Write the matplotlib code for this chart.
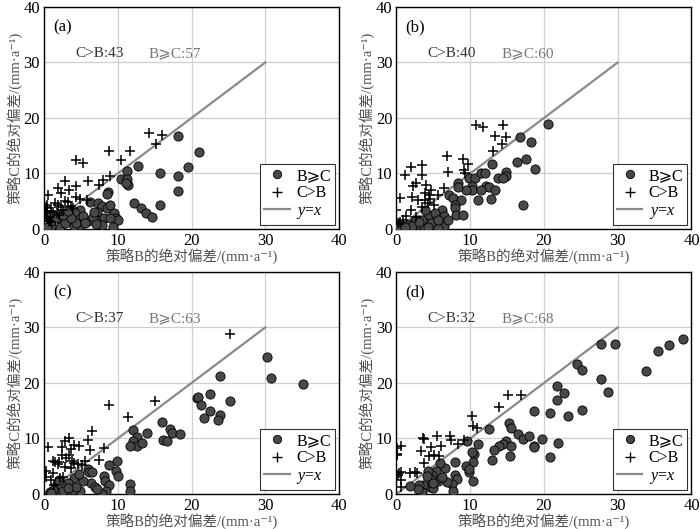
import numpy as np
import matplotlib
matplotlib.use("Agg")
from matplotlib import pyplot as plt
from matplotlib.lines import Line2D

plt.rcParams['font.family'] = ['Liberation Serif', 'Noto Sans CJK SC', 'DejaVu Sans']
plt.rcParams['mathtext.fontset'] = 'custom'
plt.rcParams['mathtext.rm'] = 'Liberation Serif'
plt.rcParams['mathtext.it'] = 'Liberation Serif:italic'

# panel (a)
a_bc_x = [18.1, 21.0, 19.5, 12.7, 11.2, 15.7, 18.2, 10.5, 11.2, 11.4, 11.1, 18.1, 8.7, 12.2, 15.7,
          13.2, 13.8, 14.7, 6.2, 7.3, 7.8, 8.6, 4.9, 4.2, 7.2, 9.5, 9.8, 10.0, 3.1, 2.3, 3.5, 4.9,
          6.0, 7.5, 8.1, 9.0, 7.8, 9.4, 4.0, 2.2, 0.9, 4.9, 4.3, 2.9, 1.0, 5.3, 6.6, 8.5, 3.7,
          1.6, 2.6, 5.6, 7.0, 0.4, 3.3, 6.8, 8.9]
a_bc_y = [16.7, 13.8, 11.2, 11.4, 10.5, 10.0, 9.5, 9.0, 9.0, 8.0, 8.3, 6.8, 6.6, 4.6, 4.4,
          3.7, 2.9, 2.2, 4.8, 4.6, 4.2, 3.8, 3.4, 2.8, 3.0, 2.8, 2.0, 1.6, 2.2, 1.7, 1.6, 1.8,
          1.4, 1.4, 1.9, 1.9, 0.8, 0.4, 0.5, 0.4, 0.5, 0.8, 1.1, 1.1, 1.4, 2.4, 2.1, 6.3, 2.0,
          1.9, 2.5, 1.0, 0.9, 0.3, 3.3, 3.1, 4.4]
a_cb_x = [14.2, 16.0, 15.2, 8.8, 11.7, 10.5, 4.3, 5.3, 9.0, 5.9, 2.9, 1.9, 4.4, 8.0, 7.4,
          3.4, 2.3, 0.5, 4.3, 4.9, 3.3, 0.4, 0.4, 0.4, 1.9, 2.3, 0.1, 0.8, 2.6, 1.8, 0.7,
          3.9, 5.8, 1.2, 0.2, 1.5, 2.8, 0.3, 1.0, 2.0, 0.6, 3.6, 0.9]
a_cb_y = [17.3, 16.9, 15.4, 14.1, 14.1, 12.5, 12.5, 11.9, 9.5, 8.7, 8.6, 7.4, 7.7, 8.8, 8.0,
          7.0, 6.4, 6.2, 5.8, 5.4, 4.9, 4.3, 3.7, 3.2, 4.4, 4.0, 2.8, 2.2, 3.5, 2.8, 1.4,
          3.7, 5.2, 3.0, 2.2, 4.6, 5.1, 4.0, 3.3, 2.5, 1.8, 4.1, 1.2]

# panel (b)
b_bc_x = [20.5, 16.8, 18.3, 17.6, 16.3, 18.8, 12.9, 9.9, 10.6, 11.4, 12.0, 13.7, 14.9, 14.8,
          14.5, 10.3, 10.3, 12.2, 12.6, 11.5, 13.3, 9.4, 8.4, 8.3, 7.1, 7.7, 8.7, 11.0, 12.8,
          17.1, 7.9, 8.0, 8.1, 9.0, 6.2, 6.4, 6.5, 6.5, 5.2, 5.6, 4.5, 4.3, 3.9, 3.1, 2.9, 3.7,
          2.2, 2.6, 1.6, 0.6, 4.7, 5.2, 5.6, 7.0, 3.5, 2.1, 0.2, 4.3, 1.2, 3.0]
b_bc_y = [18.9, 16.6, 15.6, 12.7, 12.0, 10.8, 11.8, 9.2, 9.1, 10.1, 10.0, 9.1, 10.2, 9.5,
          9.2, 7.8, 7.0, 7.7, 7.6, 7.0, 7.0, 7.0, 8.2, 7.6, 6.1, 5.6, 5.3, 5.2, 5.4,
          4.4, 4.4, 3.7, 2.6, 2.6, 3.4, 2.3, 1.1, 0.5, 1.4, 0.2, 2.2, 2.6, 3.4, 1.6, 0.8, 0.5,
          1.1, 1.7, 0.8, 0.4, 1.0, 2.8, 1.6, 1.7, 1.6, 0.6, 0.2, 0.4, 0.3, 1.3]
b_cb_x = [10.8, 11.8, 14.4, 13.3, 14.9, 14.3, 13.1, 6.8, 9.0, 9.7, 3.4, 2.0, 1.2, 3.5, 7.0,
          9.1, 9.3, 2.6, 2.3, 4.0, 3.8, 4.4, 4.7, 6.5, 2.1, 2.9, 0.5, 3.8, 4.5, 0.0, 2.0, 3.5,
          1.3, 0.5, 5.6, 4.3, 2.7, 0.9, 0.2, 5.1]
b_cb_y = [18.7, 18.3, 18.7, 16.7, 16.5, 15.4, 14.0, 13.2, 12.6, 11.8, 11.5, 11.2, 9.8, 9.8, 10.2,
          10.7, 10.1, 8.2, 7.7, 8.0, 6.5, 6.1, 7.0, 7.4, 5.8, 5.2, 5.5, 5.3, 5.4, 3.4, 3.4, 4.0,
          2.3, 1.3, 6.2, 4.6, 2.2, 1.6, 1.0, 4.3]

# panel (c)
c_bc_x = [30.2, 30.8, 35.1, 23.9, 22.5, 20.7, 20.9, 21.3, 25.2, 21.7, 22.5, 23.8, 23.6, 16.0,
          17.1, 17.4, 18.5, 16.1, 16.7, 12.1, 13.9, 12.6, 12.1, 12.6, 11.7, 13.3, 9.9, 9.7,
          10.0, 8.8, 5.9, 6.1, 6.5, 4.6, 4.1, 8.1, 8.3, 8.8, 8.4, 7.8, 6.4, 6.9, 4.9, 3.6,
          2.1, 3.0, 2.8, 3.3, 1.6, 11.7, 11.7, 2.3, 3.9, 1.2, 2.6, 4.4, 0.8, 5.3, 7.2, 3.3,
          2.0, 1.0, 4.8]
c_bc_y = [24.6, 20.9, 19.9, 21.3, 18.1, 17.3, 17.4, 16.1, 16.7, 13.7, 14.9, 14.3, 13.4, 13.0,
          11.7, 10.9, 10.8, 9.8, 9.5, 11.5, 11.0, 10.2, 9.6, 8.7, 8.6, 9.1, 5.9, 4.2,
          3.3, 5.2, 4.5, 4.0, 3.9, 3.3, 2.9, 3.3, 2.3, 1.6, 0.6, 0.0, 2.0, 1.2, 0.5, 0.2,
          0.3, 0.9, 1.7, 2.0, 1.4, 1.8, 0.5, 1.7, 0.8, 0.8, 0.5, 1.2, 0.4, 2.4, 0.9, 1.1,
          2.6, 0.2, 3.6]
c_cb_x = [25.2, 15.1, 8.8, 11.4, 6.5, 6.0, 6.3, 8.1, 3.4, 2.9, 0.6, 2.4, 3.6, 4.1, 4.7, 2.5,
          3.4, 1.2, 1.5, 1.9, 3.8, 4.1, 4.6, 5.6, 0.3, 1.2, 0.3, 2.1, 2.6, 1.4, 2.8, 3.7,
          3.0, 7.5, 2.0, 1.0, 5.2]
c_cb_y = [28.9, 16.8, 16.0, 13.9, 11.4, 9.8, 8.0, 8.2, 10.0, 9.5, 8.4, 8.4, 8.1, 8.9, 8.7, 7.0,
          7.0, 5.9, 5.7, 5.4, 6.0, 5.5, 5.4, 6.0, 4.1, 3.7, 3.1, 2.9, 3.1, 1.7, 4.8, 4.7,
          6.4, 6.2, 5.8, 2.6, 5.2]

# panel (d)
d_bc_x = [38.8, 37.0, 35.4, 33.9, 29.6, 27.7, 27.7, 28.7, 24.5, 25.2, 21.8, 22.7, 21.7, 25.2,
          20.8, 23.2, 18.7, 15.2, 15.5, 12.6, 16.5, 17.1, 18.0, 19.8, 14.9, 14.5, 13.9, 13.2,
          18.6, 18.6, 21.9, 20.8, 15.4, 15.5, 13.0, 11.0, 9.5, 10.5, 10.3, 10.4, 9.4, 9.9,
          9.8, 10.4, 8.0, 8.0, 8.2, 7.5, 7.7, 6.6, 6.9, 5.9, 5.6, 5.3, 5.3, 4.8, 4.7, 4.6,
          4.9, 4.3, 3.6, 3.5, 3.0, 2.9, 1.8, 6.2, 5.0, 4.1]
d_bc_y = [28.0, 26.9, 25.7, 22.2, 27.0, 27.1, 20.8, 18.4, 23.5, 22.4, 19.5, 18.2, 16.9, 15.2,
          14.6, 14.1, 15.0, 12.8, 11.9, 11.7, 10.8, 9.9, 10.4, 9.9, 9.6, 9.0, 8.7, 8.0,
          8.7, 8.4, 9.2, 6.7, 6.8, 8.6, 6.1, 9.0, 9.5, 7.2, 7.5, 5.7, 5.0, 3.9,
          4.5, 2.3, 5.7, 3.5, 2.7, 1.8, 0.6, 4.6, 2.1, 5.5, 2.4, 2.7, 4.1, 3.5, 2.7, 1.3,
          1.0, 4.2, 1.7, 0.3, 1.6, 0.9, 1.4, 3.0, 2.0, 3.3]
d_cb_x = [15.1, 16.9, 13.9, 10.3, 10.4, 10.9, 5.5, 3.6, 3.7, 7.3, 7.4, 9.1, 8.4, 0.6, 0.1,
          0.1, 0.1, 3.3, 4.7, 6.1, 5.1, 4.4, 5.7, 3.7, 1.8, 2.8, 0.3, 0.6, 0.2, 0.6, 0.6, 2.5]
d_cb_y = [17.9, 17.9, 15.6, 14.1, 12.2, 11.9, 10.5, 10.0, 9.9, 10.4, 9.8, 9.8, 9.0, 8.7, 8.3,
          7.2, 7.0, 7.8, 8.4, 8.6, 7.1, 6.9, 6.9, 5.6, 3.8, 3.7, 3.8, 3.9, 3.5, 2.5, 1.2, 3.9]

panels = [
    ('(a)', a_bc_x, a_bc_y, a_cb_x, a_cb_y, 43, 57),
    ('(b)', b_bc_x, b_bc_y, b_cb_x, b_cb_y, 40, 60),
    ('(c)', c_bc_x, c_bc_y, c_cb_x, c_cb_y, 37, 63),
    ('(d)', d_bc_x, d_bc_y, d_cb_x, d_cb_y, 32, 68),
]

# axes boxes in figure fractions (left, bottom, width, height)
boxes = [
    [0.0629, 0.5671, 0.4214, 0.4197],
    [0.5664, 0.5671, 0.4214, 0.4197],
    [0.0629, 0.0662, 0.4214, 0.4197],
    [0.5664, 0.0662, 0.4214, 0.4197],
]

fig = plt.figure(figsize=(7.0, 5.29), dpi=100)

for (tag, bx, by, cx, cy, n_cb, n_bc), box in zip(panels, boxes):
    ax = fig.add_axes(box)
    ax.grid(True, color='#cfcfcf', lw=0.9, zorder=0)
    ax.set_axisbelow(True)
    ax.plot([0, 30], [0, 30], color='#8a8a8a', lw=1.6, zorder=2)
    ax.scatter(bx, by, s=44, facecolor='#484848', edgecolor='black', linewidths=0.6, zorder=3)
    ax.scatter(cx, cy, s=48, marker='+', color='black', linewidths=1.1, zorder=4)
    ax.set_xlim(0, 40)
    ax.set_ylim(0, 40)
    ax.set_xticks([0, 10, 20, 30, 40])
    ax.set_yticks([0, 10, 20, 30, 40])
    ax.tick_params(direction='in', length=0, labelsize=12, pad=3)
    for s in ax.spines.values():
        s.set_linewidth(1.0)
    ax.set_xlabel('策略B的绝对偏差/(mm·a⁻¹)', fontsize=10.5, color='#505050', labelpad=0)
    ax.set_ylabel('策略C的绝对偏差/(mm·a⁻¹)', fontsize=10.5, color='#505050', labelpad=0)
    ax.text(1.2, 36.4, tag, fontsize=12, va='center', ha='left')
    ax.text(4.2, 31.6, 'C>B:%d' % n_cb, fontsize=11, va='center', ha='left', color='#333333')
    ax.text(14.2, 31.6, 'B⩾C:%d' % n_bc, fontsize=11, va='center', ha='left', color='#777777')

    handles = [
        Line2D([], [], ls='none', marker='o', ms=6, mfc='#484848', mec='black', mew=0.6),
        Line2D([], [], ls='none', marker='+', ms=7, color='black', mew=1.0),
        Line2D([], [], color='#8a8a8a', lw=1.6),
    ]
    leg = ax.legend(handles, ['B⩾C', 'C>B', '$y$=$x$'], loc='lower right', fontsize=11.5,
                    frameon=True, fancybox=False, edgecolor='#333333', framealpha=1,
                    handlelength=1.6, handletextpad=0.4, borderpad=0.25, labelspacing=0.1,
                    borderaxespad=0.25)
    leg.get_frame().set_linewidth(0.8)

fig.savefig('out.png', dpi=100)
